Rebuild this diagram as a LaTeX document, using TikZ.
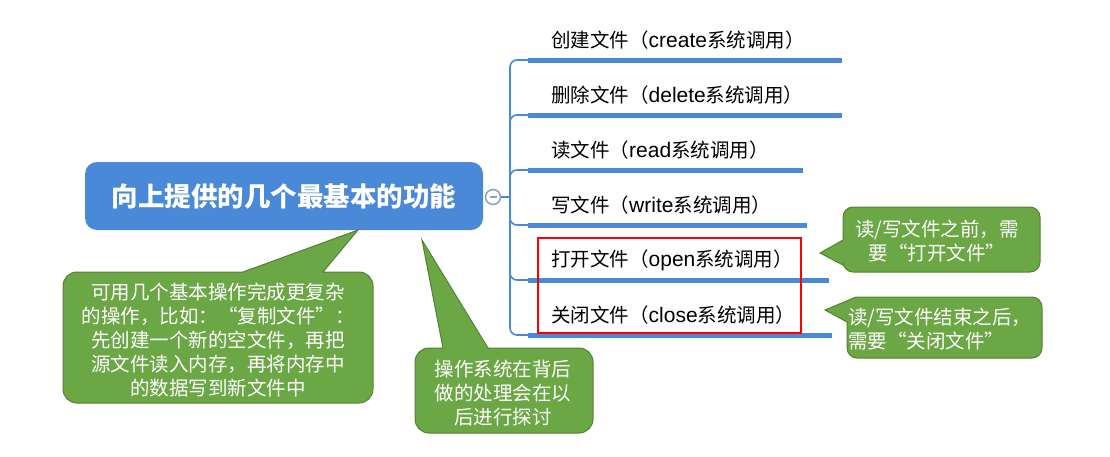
\documentclass[tikz,border=0pt]{standalone}
\usepackage{fontspec}
\setmainfont{Noto Sans CJK SC}
\newfontfamily\lat{Liberation Sans}
\newcommand{\lt}[1]{{\lat\fontsize{21}{22}\selectfont #1}}
\definecolor{mainblue}{RGB}{74,136,216}
\definecolor{cgreen}{RGB}{107,167,69}
\definecolor{cgreenborder}{RGB}{84,130,53}
\definecolor{circborder}{RGB}{140,160,195}
\begin{document}
\begin{tikzpicture}[x=1pt,y=-1pt,
  mainbox/.style={fill=mainblue, rounded corners=12pt, minimum width=398pt, minimum height=68pt, text=white, font=\fontsize{26.5}{30}\selectfont\bfseries, inner sep=0pt},
  branch/.style={draw=mainblue, line width=1.6pt, rounded corners=7pt},
  under/.style={draw=mainblue, line width=5pt},
  lbl/.style={anchor=west, inner sep=0pt, font=\fontsize{19.5}{22}\selectfont, text=black},
  callout/.style={fill=cgreen, draw=cgreenborder, line width=1pt},
  ctext/.style={text=white, font=\fontsize{19.5}{24}\selectfont, inner sep=0pt}
]
\useasboundingbox (0,0) rectangle (1110,456);

% main node
\node[mainbox] (main) at (284,196) {向上提供的几个最基本的功能};

% collapse circle
\node[circle, draw=circborder, fill=white, line width=1.5pt, minimum size=15pt, inner sep=0pt] (col) at (493,197) {};
\draw[circborder, line width=1.5pt] ([xshift=-3.5pt]col.center) -- ([xshift=3.5pt]col.center);
\coordinate (hub) at (510,197);
\draw[branch] (col.east) -- (hub);

% branch underlines
\foreach \i/\y/\xe in {1/60/842, 2/115/842, 3/170/803, 4/225/807, 5/280/829, 6/335/832} {
  \coordinate (s\i) at (528,\y);
  \coordinate (e\i) at (\xe,\y);
  \draw[branch] (hub) |- (s\i);
  \draw[under] (s\i) -- (e\i);
}

% labels
\node[lbl] (l1) at (551,40) {创建文件（\lt{create}系统调用）};
\node[lbl] (l2) at (551,95) {删除文件（\lt{delete}系统调用）};
\node[lbl] (l3) at (551,150) {读文件（\lt{read}系统调用）};
\node[lbl] (l4) at (551,205) {写文件（\lt{write}系统调用）};
\node[lbl] (l5) at (551,260) {打开文件（\lt{open}系统调用）};
\node[lbl] (l6) at (551,315) {关闭文件（\lt{close}系统调用）};

% red highlight box
\draw[red, line width=2pt] (538,238) rectangle (801,333);

% callout 1 (upper right)
\coordinate (t1) at (820,253);
\draw[callout] (1040,240) [rounded corners=10pt] -- (1040,272) -- (843,272) [sharp corners] -- (843,265) -- (t1) -- (843,240) [rounded corners=10pt] -- (843,207) -- (1040,207) -- cycle;
\node[ctext, align=center] (c1) at (937,241.5) {读/写文件之前，需\\要“打开文件”};

% callout 2 (lower right)
\coordinate (t2) at (825,310);
\draw[callout] (1042,330) [rounded corners=10pt] -- (1042,358) -- (847,358) [sharp corners] -- (847,322) -- (t2) -- (856,297) [rounded corners=10pt] -- (1042,297) -- cycle;
\node[ctext, align=left, anchor=west] (c2) at (848,329.5) {读/写文件结束之后，\\需要“关闭文件”};

% callout 3 (bottom left)
\coordinate (t3) at (358,230);
\draw[callout] (373,340) [rounded corners=14pt] -- (373,403) -- (63,403) -- (63,272) [sharp corners] -- (243,272) -- (t3) -- (323,272) [rounded corners=14pt] -- (373,272) -- cycle;
\node[ctext, align=center] (c3) at (218,340) {可用几个基本操作完成更复杂\\的操作，比如：“复制文件”：\\先创建一个新的空文件，再把\\源文件读入内存，再将内存中\\的数据写到新文件中};

% callout 4 (bottom middle)
\coordinate (t4) at (422,240);
\draw[callout] (593,390) [rounded corners=14pt] -- (593,433) -- (415,433) -- (415,348) [sharp corners] -- (443,348) -- (t4) -- (488,348) [rounded corners=14pt] -- (593,348) -- cycle;
\node[ctext, align=center] (c4) at (503,393) {操作系统在背后\\做的处理会在以\\后进行探讨};
\end{tikzpicture}
\end{document}
